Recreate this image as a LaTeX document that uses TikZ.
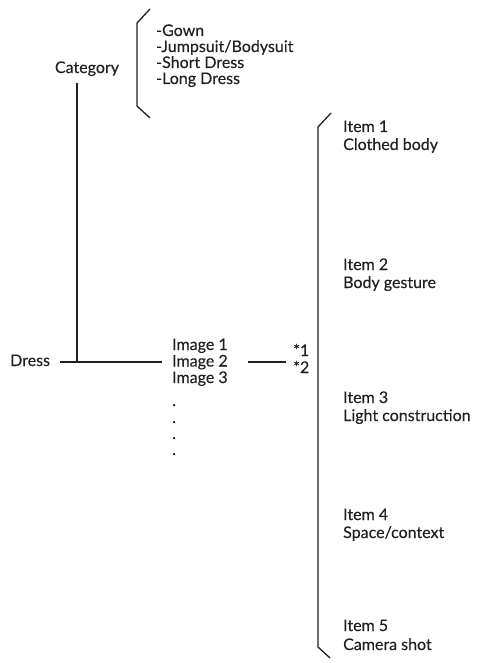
\documentclass[tikz,border=0pt]{standalone}
\usepackage{fontspec}
\setmainfont{Lato}[FakeBold=0.25]
\definecolor{ink}{HTML}{231F20}
\begin{document}
\begin{tikzpicture}[x=1pt,y=-1pt,
  txt/.style={inner sep=0pt, anchor=base west, font=\fontsize{16}{18}\selectfont, text=ink},
  ln/.style={line width=1.3pt, draw=ink, line join=miter}]
\useasboundingbox (0,0) rectangle (478,663);
% category
\node[txt, anchor=base] (cat) at (87,73) {Category};
\draw[ln] (150,9) -- (137,23) -- (137,106) -- (150,118);
\node[txt] (c1) at (156,36) {-Gown};
\node[txt] (c2) at (156,52) {-Jumpsuit/Bodysuit};
\node[txt] (c3) at (156,68) {-Short Dress};
\node[txt] (c4) at (156,84) {-Long Dress};
% dress
\node[txt] (dress) at (10,366) {Dress};
\coordinate (vt) at (77,83);
\coordinate (vb) at (77,362);
\coordinate (hl) at (60,362);
\coordinate (hr) at (162,362);
\draw[ln] (vt) -- (vb);
\draw[ln] (hl) -- (hr);
% images
\node[txt] (i1) at (172,350) {Image 1};
\node[txt] (i2) at (172,366.5) {Image 2};
\node[txt] (i3) at (172,383) {Image 3};
\node[txt] (d1) at (172,406) {.};
\node[txt] (d2) at (172,423) {.};
\node[txt] (d3) at (172,439) {.};
\node[txt] (d4) at (172,455) {.};
\coordinate (sl) at (248,362);
\coordinate (sr) at (286,362);
\draw[ln] (sl) -- (sr);
\node[txt] (s1) at (293,356) {*1};
\node[txt] (s2) at (293,373) {*2};
% items bracket
\draw[ln] (331,113) -- (318,127) -- (318,647) -- (330,658);
\node[txt] (it1) at (343,132) {Item 1};
\node[txt] (it1b) at (343,150) {Clothed body};
\node[txt] (it2) at (343,270) {Item 2};
\node[txt] (it2b) at (343,288) {Body gesture};
\node[txt] (it3) at (343,403) {Item 3};
\node[txt] (it3b) at (343,421) {Light construction};
\node[txt] (it4) at (343,520) {Item 4};
\node[txt] (it4b) at (343,538) {Space/context};
\node[txt] (it5) at (343,631) {Item 5};
\node[txt] (it5b) at (343,650) {Camera shot};
\end{tikzpicture}
\end{document}
